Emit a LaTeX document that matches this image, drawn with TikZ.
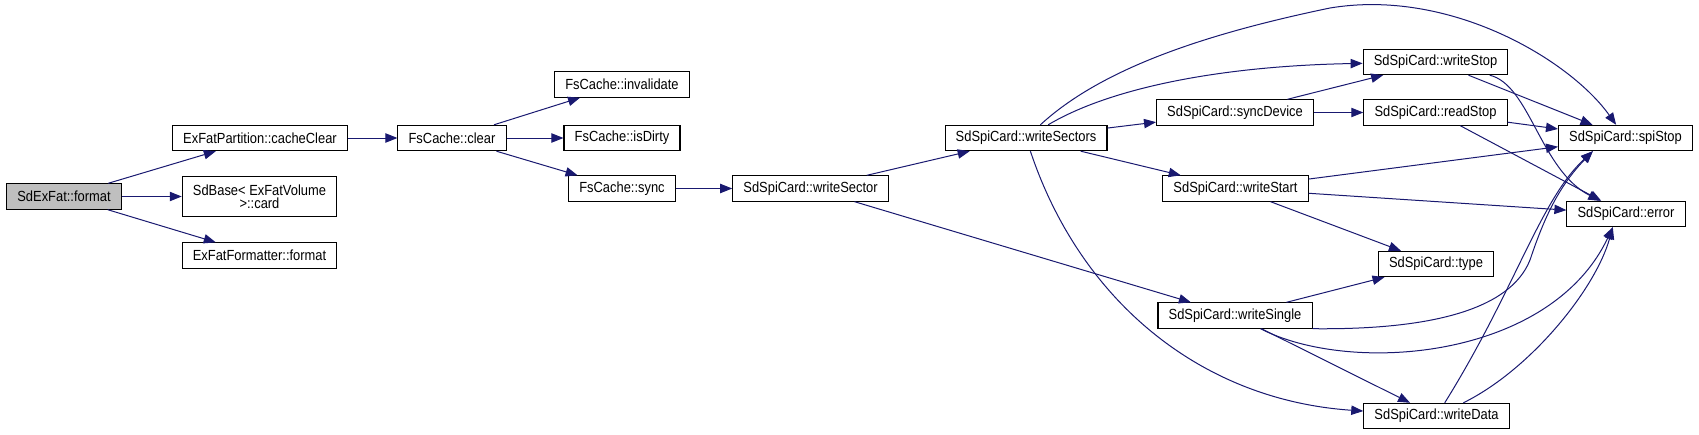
\documentclass[tikz,border=0pt]{standalone}
\usepackage{fontspec}
\setmainfont{Liberation Sans}[FakeStretch=0.88]
\usepackage{tikz}
\usetikzlibrary{arrows.meta}
\definecolor{edgeblue}{HTML}{191970}
\definecolor{rootgray}{HTML}{BFBFBF}
\tikzset{
  fnbox/.style={rectangle, draw=black, line width=0.8pt, fill=white, align=center,
                inner xsep=8pt, inner ysep=0pt, minimum height=19pt,
                font=\fontsize{11}{10}\selectfont},
  rootbox/.style={fnbox, fill=rootgray},
  callarr/.style={-{Triangle[length=9pt,width=7pt]}, line width=0.75pt, draw=edgeblue},
}
\begin{document}
\begin{tikzpicture}[x=0.75pt, y=-0.75pt]
    \useasboundingbox (0,0) rectangle (1699,435);
    \node[rootbox] (fmt)   at (64,196.5)    {SdExFat::format};
    \node[fnbox]   (ccl)   at (260,138)     {ExFatPartition::cacheClear};
    \node[fnbox, minimum height=30pt] (card) at (259.5,196.5) {SdBase< ExFatVolume\\>::card};
    \node[fnbox]   (xfmt)  at (259.5,255.5) {ExFatFormatter::format};
    \node[fnbox]   (clr)   at (452,138)     {FsCache::clear};
    \node[fnbox]   (inval) at (622,84.5)    {FsCache::invalidate};
    \node[fnbox]   (dirty) at (622,138)     {FsCache::isDirty};
    \node[fnbox]   (sync)  at (622,188.5)   {FsCache::sync};
    \node[fnbox]   (wsec)  at (810.5,188.5) {SdSpiCard::writeSector};
    \node[fnbox]   (wsecs) at (1026,138)    {SdSpiCard::writeSectors};
    \node[fnbox]   (sdev)  at (1235,112.5)  {SdSpiCard::syncDevice};
    \node[fnbox]   (wstart)at (1235.5,188.5){SdSpiCard::writeStart};
    \node[fnbox]   (wsing) at (1235,315.5)  {SdSpiCard::writeSingle};
    \node[fnbox]   (wstop) at (1435.5,62)   {SdSpiCard::writeStop};
    \node[fnbox]   (rstop) at (1435.5,112.5){SdSpiCard::readStop};
    \node[fnbox]   (type)  at (1436,264)    {SdSpiCard::type};
    \node[fnbox]   (wdata) at (1436.5,416)  {SdSpiCard::writeData};
    \node[fnbox]   (spi)   at (1625.5,138)  {SdSpiCard::spiStop};
    \node[fnbox]   (err)   at (1626,214)    {SdSpiCard::error};
    \draw[callarr] (fmt)--(ccl);
    \draw[callarr] (fmt)--(card);
    \draw[callarr] (fmt)--(xfmt);
    \draw[callarr] (ccl)--(clr);
    \draw[callarr] (clr)--(inval);
    \draw[callarr] (clr)--(dirty);
    \draw[callarr] (clr)--(sync);
    \draw[callarr] (sync)--(wsec);
    \draw[callarr] (wsec)--(wsecs);
    \draw[callarr] (wsec)--(wsing);
    % calls out of writeSectors
    \draw[callarr] (wsecs) .. controls (1100,70) and (1200,35) .. (1330,8)
                   .. controls (1450,-12) and (1570,60) .. (spi);
    \draw[callarr] (wsecs) .. controls (1110,88) and (1220,66) .. (wstop);
    \draw[callarr] (wsecs)--(sdev);
    \draw[callarr] (wsecs)--(wstart);
    \draw[callarr] (wsecs) .. controls (1080,300) and (1200,400) .. (wdata);
    \draw[callarr] (sdev)--(wstop);
    \draw[callarr] (sdev)--(rstop);
    \draw[callarr] (wstop)--(spi);
    \draw[callarr] (wstop) .. controls (1530,85) and (1540,170) .. (err);
    \draw[callarr] (rstop)--(spi);
    \draw[callarr] (rstop)--(err);
    \draw[callarr] (wstart)--(spi);
    \draw[callarr] (wstart)--(err);
    \draw[callarr] (wstart)--(type);
    \draw[callarr] (wsing)--(type);
    \draw[callarr] (wsing.south east) .. controls (1430,330) and (1510,310) .. (1530,260)
                   .. controls (1545,215) and (1560,185) .. (spi.-158);
    \draw[callarr] (wsing) .. controls (1350,375) and (1550,360) .. (err.-135);
    \draw[callarr] (wsing)--(wdata);
    \draw[callarr] (wdata) .. controls (1515,290) and (1540,200) .. (spi.-158);
    \draw[callarr] (wdata) .. controls (1530,370) and (1595,290) .. (err.-135);
\end{tikzpicture}
\end{document}
